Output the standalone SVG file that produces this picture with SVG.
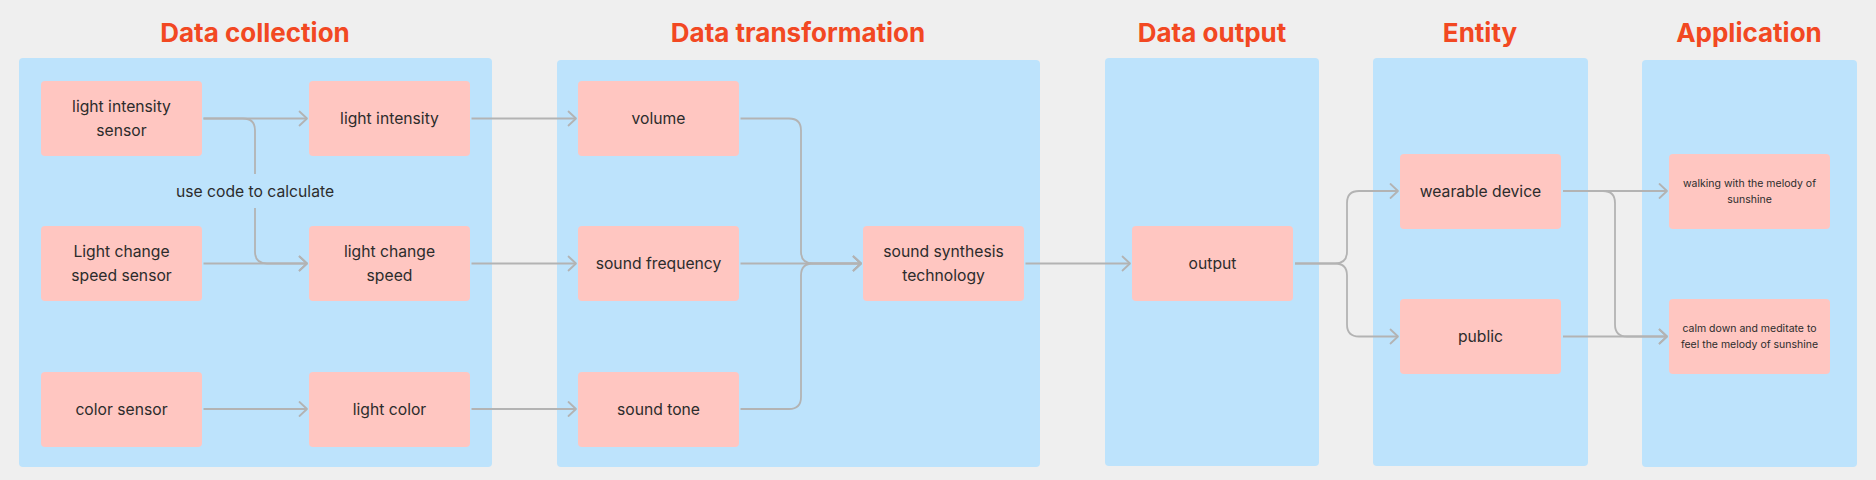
<svg xmlns="http://www.w3.org/2000/svg" width="1876" height="480" viewBox="0 0 1876 480">
<style>
.bg{fill:#efefef}
.panel{fill:#bde3fc}
.node{fill:#ffc6c1}
.title{font-family:Inter,"Liberation Sans",sans-serif;font-weight:700;font-size:26px;fill:#f24822;text-anchor:middle}
.t{font-family:Inter,"Liberation Sans",sans-serif;font-size:15.7px;fill:#2c2c2c;text-anchor:middle}
.s{font-family:Inter,"Liberation Sans",sans-serif;font-size:10.5px;fill:#2c2c2c;text-anchor:middle}
.c{fill:none;stroke:#b3b3b3;stroke-width:1.8}
</style>
<defs>
<marker id="arr" markerWidth="13" markerHeight="18" refX="10" refY="9" orient="auto" markerUnits="userSpaceOnUse">
<path d="M2.5,2 L10,9 L2.5,16" fill="none" stroke="#b3b3b3" stroke-width="1.8" stroke-linecap="round" stroke-linejoin="round"/>
</marker>
</defs>
<rect class="bg" x="0" y="0" width="1876" height="480"/>

<g id="panels">
<rect class="panel" x="19" y="58" width="473" height="409" rx="4"/>
<rect class="panel" x="557" y="60" width="483" height="407" rx="4"/>
<rect class="panel" x="1105" y="58" width="214" height="408" rx="4"/>
<rect class="panel" x="1373" y="58" width="215" height="408" rx="4"/>
<rect class="panel" x="1642" y="60" width="215" height="407" rx="4"/>
<text class="title" x="255" y="42">Data collection</text>
<text class="title" x="798" y="42">Data transformation</text>
<text class="title" x="1212" y="42">Data output</text>
<text class="title" x="1480" y="42">Entity</text>
<text class="title" x="1749" y="42">Application</text>
</g>

<g id="connectors">
<path class="c" d="M203.5 118.5 H307" marker-end="url(#arr)"/>
<path class="c" d="M203.5 118.5 H243 Q255 118.5 255 130.5 V174"/>
<text class="t" x="255" y="197">use code to calculate</text>
<path class="c" d="M255 208 V251.5 Q255 263.5 267 263.5 H307" marker-end="url(#arr)"/>
<path class="c" d="M203.5 263.5 H307" marker-end="url(#arr)"/>
<path class="c" d="M203.5 409 H307" marker-end="url(#arr)"/>
<path class="c" d="M471.5 118.5 H576" marker-end="url(#arr)"/>
<path class="c" d="M471.5 263.5 H576" marker-end="url(#arr)"/>
<path class="c" d="M471.5 409 H576" marker-end="url(#arr)"/>
<path class="c" d="M740.5 118.5 H789 Q801 118.5 801 130.5 V251.5 Q801 263.5 813 263.5 H861" marker-end="url(#arr)"/>
<path class="c" d="M740.5 263.5 H861" marker-end="url(#arr)"/>
<path class="c" d="M740.5 409 H789 Q801 409 801 397 V275.5 Q801 263.5 813 263.5 H861" marker-end="url(#arr)"/>
<path class="c" d="M1025.5 263.5 H1130" marker-end="url(#arr)"/>
<path class="c" d="M1295 263.5 H1335 Q1347 263.5 1347 251.5 V203 Q1347 191 1359 191 H1398" marker-end="url(#arr)"/>
<path class="c" d="M1295 263.5 H1335 Q1347 263.5 1347 275.5 V324.5 Q1347 336.5 1359 336.5 H1398" marker-end="url(#arr)"/>
<path class="c" d="M1563 191 H1667" marker-end="url(#arr)"/>
<path class="c" d="M1563 191 H1603 Q1615 191 1615 203 V324.5 Q1615 336.5 1627 336.5 H1667" marker-end="url(#arr)"/>
<path class="c" d="M1563 336.5 H1667" marker-end="url(#arr)"/>
</g>

<g id="n-light-intensity-sensor"><rect class="node" x="41" y="81" width="161" height="75" rx="4"/><text class="t" x="121.5" y="111.5">light intensity</text><text class="t" x="121.5" y="135.5">sensor</text></g>
<g id="n-light-change-speed-sensor"><rect class="node" x="41" y="226" width="161" height="75" rx="4"/><text class="t" x="121.5" y="256.5">Light change</text><text class="t" x="121.5" y="280.5">speed sensor</text></g>
<g id="n-color-sensor"><rect class="node" x="41" y="372" width="161" height="75" rx="4"/><text class="t" x="121.5" y="414.5">color sensor</text></g>
<g id="n-light-intensity"><rect class="node" x="309" y="81" width="161" height="75" rx="4"/><text class="t" x="389.5" y="124">light intensity</text></g>
<g id="n-light-change-speed"><rect class="node" x="309" y="226" width="161" height="75" rx="4"/><text class="t" x="389.5" y="256.5">light change</text><text class="t" x="389.5" y="280.5">speed</text></g>
<g id="n-light-color"><rect class="node" x="309" y="372" width="161" height="75" rx="4"/><text class="t" x="389.5" y="414.5">light color</text></g>
<g id="n-volume"><rect class="node" x="578" y="81" width="161" height="75" rx="4"/><text class="t" x="658.5" y="124">volume</text></g>
<g id="n-sound-frequency"><rect class="node" x="578" y="226" width="161" height="75" rx="4"/><text class="t" x="658.5" y="269">sound frequency</text></g>
<g id="n-sound-tone"><rect class="node" x="578" y="372" width="161" height="75" rx="4"/><text class="t" x="658.5" y="414.5">sound tone</text></g>
<g id="n-sound-synthesis"><rect class="node" x="863" y="226" width="161" height="75" rx="4"/><text class="t" x="943.5" y="256.5">sound synthesis</text><text class="t" x="943.5" y="280.5">technology</text></g>
<g id="n-output"><rect class="node" x="1132" y="226" width="161" height="75" rx="4"/><text class="t" x="1212.5" y="269">output</text></g>
<g id="n-wearable-device"><rect class="node" x="1400" y="154" width="161" height="75" rx="4"/><text class="t" x="1480.5" y="196.5">wearable device</text></g>
<g id="n-public"><rect class="node" x="1400" y="299" width="161" height="75" rx="4"/><text class="t" x="1480.5" y="342">public</text></g>
<g id="n-walking"><rect class="node" x="1669" y="154" width="161" height="75" rx="4"/><text class="s" x="1749.5" y="187">walking with the melody of</text><text class="s" x="1749.5" y="203">sunshine</text></g>
<g id="n-calm"><rect class="node" x="1669" y="299" width="161" height="75" rx="4"/><text class="s" x="1749.5" y="332">calm down and meditate to</text><text class="s" x="1749.5" y="348">feel the melody of sunshine</text></g>
</svg>
